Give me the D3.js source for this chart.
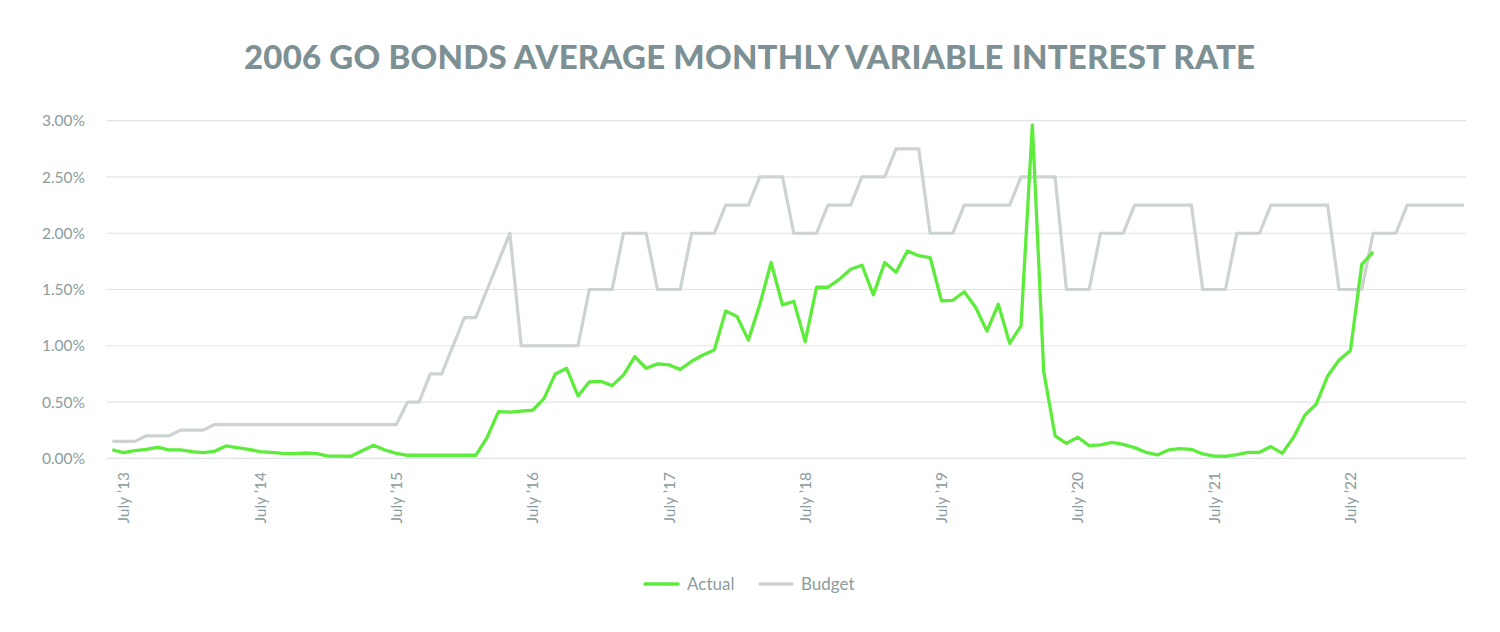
<!DOCTYPE html>
<html>
<head>
<meta charset="utf-8">
<script src="https://cdn.jsdelivr.net/npm/d3@7"></script>
<style>
  html, body { margin: 0; padding: 0; background: #ffffff; }
  svg { display: block; }
</style>
</head>
<body>
<svg id="chart" width="1500" height="632"></svg>
<script>
// ---------- DATA ----------
const title = "2006 GO BONDS AVERAGE MONTHLY VARIABLE INTEREST RATE";
const startMonth = new Date(2013, 6, 1); // July 2013
const monthCount = 120;                   // July 2013 .. June 2023
const categories = d3.timeMonth.range(startMonth, d3.timeMonth.offset(startMonth, monthCount));

const tickLabels = ["July \u201913", "July \u201914", "July \u201915", "July \u201916", "July \u201917",
                    "July \u201918", "July \u201919", "July \u201920", "July \u201921", "July \u201922"];
const yTicks = [0, 0.5, 1.0, 1.5, 2.0, 2.5, 3.0];

// Actual rate (%), monthly from July 2013
const actual = [
  0.074, 0.05, 0.068, 0.08, 0.098, 0.074, 0.074, 0.06, 0.05, 0.062,
  0.11, 0.095, 0.08, 0.06, 0.053, 0.044, 0.041, 0.047, 0.041, 0.02,
  0.02, 0.018, 0.068, 0.116, 0.074, 0.044, 0.027, 0.027, 0.027, 0.027,
  0.027, 0.027, 0.027, 0.187, 0.415, 0.41, 0.42, 0.427, 0.53, 0.75,
  0.80, 0.554, 0.68, 0.684, 0.646, 0.74, 0.904, 0.80, 0.839, 0.83,
  0.79, 0.862, 0.918, 0.963, 1.31, 1.26, 1.05, 1.366, 1.74, 1.363,
  1.395, 1.037, 1.52, 1.52, 1.59, 1.68, 1.716, 1.452, 1.74, 1.653,
  1.843, 1.80, 1.784, 1.40, 1.404, 1.48, 1.342, 1.13, 1.369, 1.022,
  1.176, 2.963, 0.77, 0.20, 0.133, 0.187, 0.113, 0.119, 0.142, 0.124,
  0.095, 0.053, 0.03, 0.074, 0.086, 0.08, 0.039, 0.02, 0.018, 0.033,
  0.053, 0.053, 0.104, 0.044, 0.187, 0.385, 0.483, 0.732, 0.874, 0.957,
  1.724, 1.834
];

// Budget rate (%), monthly from July 2013
const budget = [
  0.15, 0.15, 0.15, 0.20, 0.20, 0.20, 0.25, 0.25, 0.25, 0.30,
  0.30, 0.30, 0.30, 0.30, 0.30, 0.30, 0.30, 0.30, 0.30, 0.30,
  0.30, 0.30, 0.30, 0.30, 0.30, 0.30, 0.50, 0.50, 0.75, 0.75,
  1.00, 1.25, 1.25, 1.50, 1.75, 2.00, 1.00, 1.00, 1.00, 1.00,
  1.00, 1.00, 1.50, 1.50, 1.50, 2.00, 2.00, 2.00, 1.50, 1.50,
  1.50, 2.00, 2.00, 2.00, 2.25, 2.25, 2.25, 2.50, 2.50, 2.50,
  2.00, 2.00, 2.00, 2.25, 2.25, 2.25, 2.50, 2.50, 2.50, 2.75,
  2.75, 2.75, 2.00, 2.00, 2.00, 2.25, 2.25, 2.25, 2.25, 2.25,
  2.50, 2.50, 2.50, 2.50, 1.50, 1.50, 1.50, 2.00, 2.00, 2.00,
  2.25, 2.25, 2.25, 2.25, 2.25, 2.25, 1.50, 1.50, 1.50, 2.00,
  2.00, 2.00, 2.25, 2.25, 2.25, 2.25, 2.25, 2.25, 1.50, 1.50,
  1.50, 2.00, 2.00, 2.00, 2.25, 2.25, 2.25, 2.25, 2.25, 2.25
];

const seriesNames = ["Actual", "Budget"];
const seriesColors = ["#5eec3c", "#ccd3d1"];

// ---------- CHART ----------
const svg = d3.select("#chart");
const font = "Lato, 'Noto Sans', sans-serif";
const labelColor = "#8b9c9e";

const x = d3.scalePoint().domain(d3.range(monthCount)).range([112.3, 1464]);
const y = d3.scaleLinear().domain([0, 3]).range([458.3, 120.7]);

// title
svg.append("text")
  .attr("x", 750).attr("y", 69)
  .attr("text-anchor", "middle")
  .attr("font-family", font)
  .attr("font-weight", 900)
  .attr("font-size", 33)
  .attr("letter-spacing", 1)
  .attr("textLength", 1012)
  .attr("lengthAdjust", "spacing")
  .attr("fill", "#7d9093")
  .text(title);

// gridlines
svg.append("g").selectAll("line").data(yTicks).join("line")
  .attr("x1", 106.7).attr("x2", 1466)
  .attr("y1", d => y(d)).attr("y2", d => y(d))
  .attr("stroke", "#dfe4e4").attr("stroke-width", 1.2);

// y axis labels
svg.append("g").selectAll("text").data(yTicks).join("text")
  .attr("x", 85).attr("y", d => y(d))
  .attr("dy", "0.36em")
  .attr("text-anchor", "end")
  .attr("font-family", font)
  .attr("font-weight", 400)
  .attr("font-size", 15.5)
  .attr("fill", labelColor)
  .text(d => d3.format(".2f")(d) + "%");

// x axis labels (every July)
const julyIdx = d3.range(0, monthCount, 12).slice(0, tickLabels.length);
svg.append("g").selectAll("text").data(julyIdx).join("text")
  .attr("transform", (d) => `translate(${x(d) + 11},472) rotate(-90)`)
  .attr("text-anchor", "end")
  .attr("dominant-baseline", "central")
  .attr("font-family", font)
  .attr("font-size", 15.5)
  .attr("fill", labelColor)
  .text((d, i) => tickLabels[i]);

// lines
const line = d3.line().x((d, i) => x(i)).y(d => y(d));
svg.append("path").datum(budget)
  .attr("d", line)
  .attr("fill", "none")
  .attr("stroke", seriesColors[1])
  .attr("stroke-width", 3.2)
  .attr("stroke-linejoin", "round");
svg.append("path").datum(actual)
  .attr("d", line)
  .attr("fill", "none")
  .attr("stroke", seriesColors[0])
  .attr("stroke-width", 3.3)
  .attr("stroke-linejoin", "round");

// legend
const legend = svg.append("g");
const legendItems = [
  { name: seriesNames[0], color: seriesColors[0], x1: 645, x2: 678, tx: 687 },
  { name: seriesNames[1], color: seriesColors[1], x1: 760, x2: 792, tx: 801 }
];
legendItems.forEach(it => {
  legend.append("line")
    .attr("x1", it.x1).attr("x2", it.x2).attr("y1", 584).attr("y2", 584)
    .attr("stroke", it.color).attr("stroke-width", 3.5).attr("stroke-linecap", "round");
  legend.append("text")
    .attr("x", it.tx).attr("y", 584).attr("dy", "0.36em")
    .attr("font-family", font).attr("font-size", 17)
    .attr("fill", labelColor)
    .text(it.name);
});
</script>
</body>
</html>
